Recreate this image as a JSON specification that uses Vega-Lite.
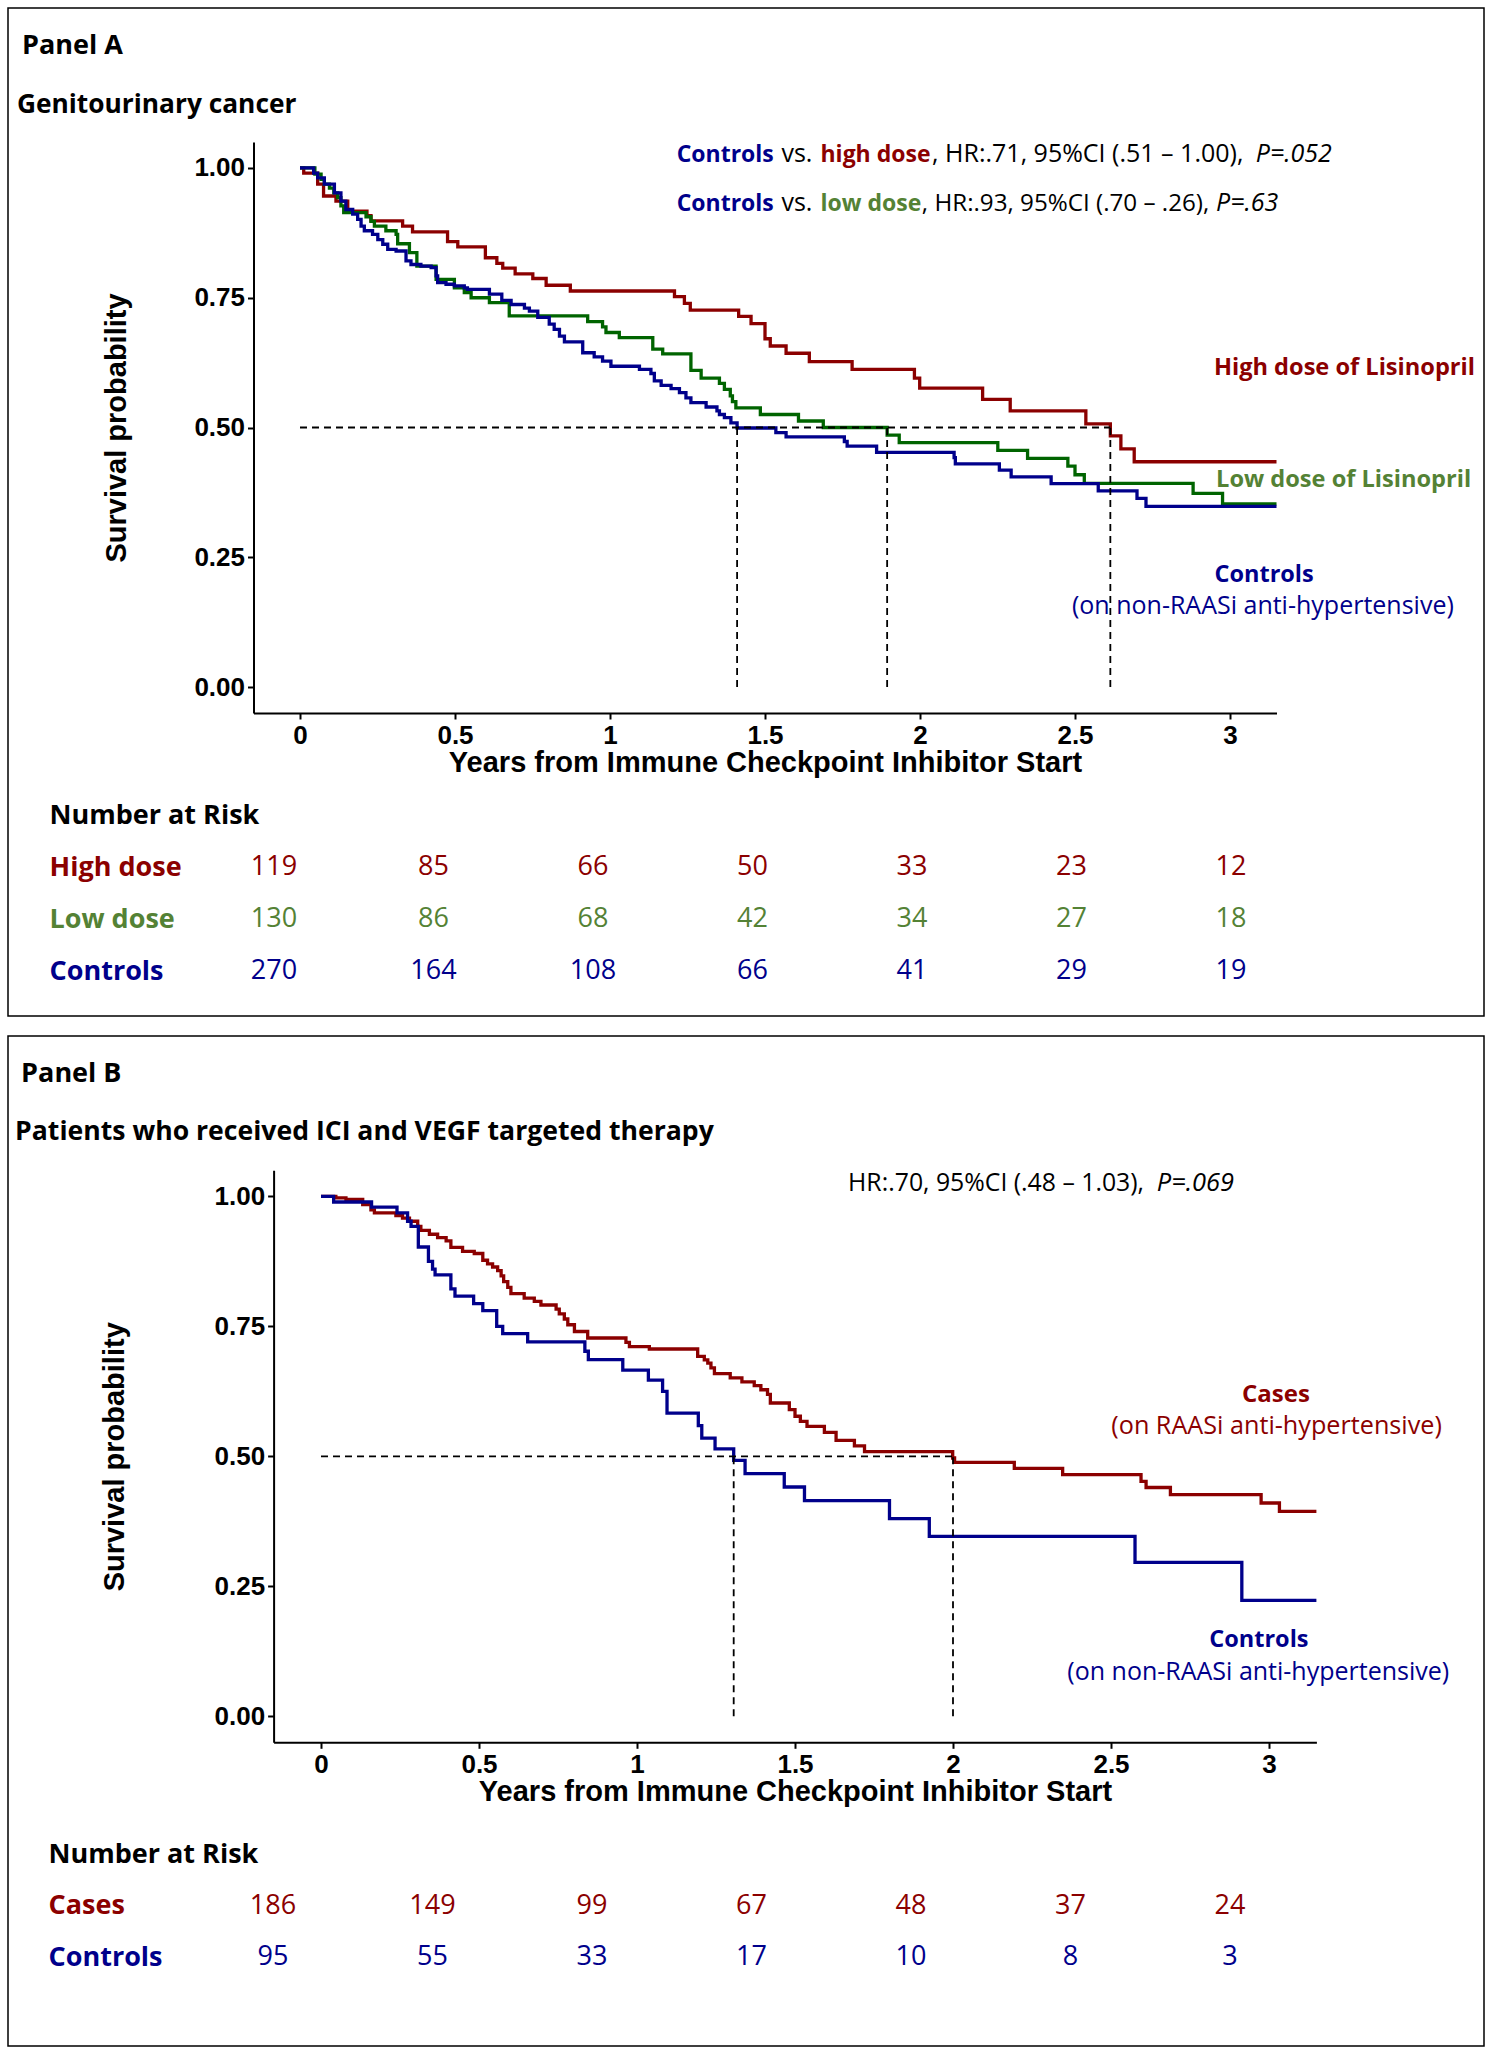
{
  "$schema": "https://vega.github.io/schema/vega-lite/v6.json",
  "padding": {"left": 7, "top": 7, "right": 0, "bottom": 0},
  "background": "white",
  "config": {
    "view": {"stroke": "#000000", "strokeWidth": 1.5},
    "axis": {"grid": false},
    "font": "Open Sans"
  },
  "datasets": {
    "kmA": [
      {"group":"High dose","t":0,"s":1},{"group":"High dose","t":0.012,"s":0.990},{"group":"High dose","t":0.057,"s":0.969},{"group":"High dose","t":0.076,"s":0.946},{"group":"High dose","t":0.116,"s":0.936},{"group":"High dose","t":0.154,"s":0.917},{"group":"High dose","t":0.216,"s":0.908},{"group":"High dose","t":0.229,"s":0.898},{"group":"High dose","t":0.331,"s":0.888},{"group":"High dose","t":0.363,"s":0.877},{"group":"High dose","t":0.476,"s":0.858},{"group":"High dose","t":0.509,"s":0.848},{"group":"High dose","t":0.598,"s":0.827},{"group":"High dose","t":0.635,"s":0.816},{"group":"High dose","t":0.654,"s":0.807},{"group":"High dose","t":0.694,"s":0.796},{"group":"High dose","t":0.751,"s":0.787},{"group":"High dose","t":0.794,"s":0.774},{"group":"High dose","t":0.872,"s":0.763},{"group":"High dose","t":1.208,"s":0.752},{"group":"High dose","t":1.240,"s":0.739},{"group":"High dose","t":1.259,"s":0.726},{"group":"High dose","t":1.415,"s":0.714},{"group":"High dose","t":1.455,"s":0.700},{"group":"High dose","t":1.500,"s":0.671},{"group":"High dose","t":1.517,"s":0.657},{"group":"High dose","t":1.568,"s":0.643},{"group":"High dose","t":1.643,"s":0.627},{"group":"High dose","t":1.781,"s":0.612},{"group":"High dose","t":1.982,"s":0.595},{"group":"High dose","t":1.999,"s":0.576},{"group":"High dose","t":2.202,"s":0.554},{"group":"High dose","t":2.291,"s":0.532},{"group":"High dose","t":2.535,"s":0.507},{"group":"High dose","t":2.614,"s":0.484},{"group":"High dose","t":2.648,"s":0.459},{"group":"High dose","t":2.691,"s":0.434},{"group":"High dose","t":3.15,"s":0.434},
      {"group":"Low dose","t":0,"s":1},{"group":"Low dose","t":0.048,"s":0.988},{"group":"Low dose","t":0.068,"s":0.978},{"group":"Low dose","t":0.0785,"s":0.969},{"group":"Low dose","t":0.095,"s":0.961},{"group":"Low dose","t":0.109,"s":0.952},{"group":"Low dose","t":0.1215,"s":0.943},{"group":"Low dose","t":0.132,"s":0.927},{"group":"Low dose","t":0.141,"s":0.914},{"group":"Low dose","t":0.213,"s":0.906},{"group":"Low dose","t":0.229,"s":0.897},{"group":"Low dose","t":0.240,"s":0.888},{"group":"Low dose","t":0.277,"s":0.879},{"group":"Low dose","t":0.310,"s":0.872},{"group":"Low dose","t":0.315,"s":0.854},{"group":"Low dose","t":0.353,"s":0.837},{"group":"Low dose","t":0.377,"s":0.811},{"group":"Low dose","t":0.439,"s":0.7855},{"group":"Low dose","t":0.498,"s":0.769},{"group":"Low dose","t":0.530,"s":0.760},{"group":"Low dose","t":0.552,"s":0.750},{"group":"Low dose","t":0.611,"s":0.7405},{"group":"Low dose","t":0.675,"s":0.715},{"group":"Low dose","t":0.928,"s":0.704},{"group":"Low dose","t":0.976,"s":0.694},{"group":"Low dose","t":0.987,"s":0.683},{"group":"Low dose","t":1.030,"s":0.673},{"group":"Low dose","t":1.138,"s":0.651},{"group":"Low dose","t":1.170,"s":0.642},{"group":"Low dose","t":1.261,"s":0.610},{"group":"Low dose","t":1.294,"s":0.595},{"group":"Low dose","t":1.353,"s":0.585},{"group":"Low dose","t":1.369,"s":0.5735},{"group":"Low dose","t":1.388,"s":0.561},{"group":"Low dose","t":1.395,"s":0.550},{"group":"Low dose","t":1.406,"s":0.538},{"group":"Low dose","t":1.485,"s":0.525},{"group":"Low dose","t":1.608,"s":0.5125},{"group":"Low dose","t":1.688,"s":0.500},{"group":"Low dose","t":1.894,"s":0.4855},{"group":"Low dose","t":1.933,"s":0.471},{"group":"Low dose","t":2.251,"s":0.456},{"group":"Low dose","t":2.347,"s":0.4406},{"group":"Low dose","t":2.477,"s":0.4255},{"group":"Low dose","t":2.500,"s":0.409},{"group":"Low dose","t":2.530,"s":0.3925},{"group":"Low dose","t":2.881,"s":0.373},{"group":"Low dose","t":2.976,"s":0.353},{"group":"Low dose","t":3.15,"s":0.353},
      {"group":"Controls","t":0,"s":1},{"group":"Controls","t":0.044,"s":0.990},{"group":"Controls","t":0.057,"s":0.981},{"group":"Controls","t":0.0785,"s":0.969},{"group":"Controls","t":0.111,"s":0.952},{"group":"Controls","t":0.132,"s":0.936},{"group":"Controls","t":0.148,"s":0.920},{"group":"Controls","t":0.170,"s":0.911},{"group":"Controls","t":0.186,"s":0.901},{"group":"Controls","t":0.197,"s":0.888},{"group":"Controls","t":0.2075,"s":0.879},{"group":"Controls","t":0.234,"s":0.872},{"group":"Controls","t":0.251,"s":0.862},{"group":"Controls","t":0.267,"s":0.853},{"group":"Controls","t":0.283,"s":0.843},{"group":"Controls","t":0.310,"s":0.840},{"group":"Controls","t":0.342,"s":0.821},{"group":"Controls","t":0.358,"s":0.814},{"group":"Controls","t":0.390,"s":0.811},{"group":"Controls","t":0.423,"s":0.808},{"group":"Controls","t":0.439,"s":0.792},{"group":"Controls","t":0.444,"s":0.779},{"group":"Controls","t":0.471,"s":0.776},{"group":"Controls","t":0.498,"s":0.773},{"group":"Controls","t":0.530,"s":0.769},{"group":"Controls","t":0.540,"s":0.766},{"group":"Controls","t":0.611,"s":0.757},{"group":"Controls","t":0.651,"s":0.745},{"group":"Controls","t":0.681,"s":0.737},{"group":"Controls","t":0.724,"s":0.730},{"group":"Controls","t":0.740,"s":0.724},{"group":"Controls","t":0.767,"s":0.712},{"group":"Controls","t":0.804,"s":0.699},{"group":"Controls","t":0.820,"s":0.689},{"group":"Controls","t":0.837,"s":0.676},{"group":"Controls","t":0.853,"s":0.665},{"group":"Controls","t":0.912,"s":0.644},{"group":"Controls","t":0.949,"s":0.636},{"group":"Controls","t":0.976,"s":0.628},{"group":"Controls","t":1.003,"s":0.618},{"group":"Controls","t":1.095,"s":0.612},{"group":"Controls","t":1.132,"s":0.604},{"group":"Controls","t":1.143,"s":0.590},{"group":"Controls","t":1.165,"s":0.581},{"group":"Controls","t":1.197,"s":0.575},{"group":"Controls","t":1.224,"s":0.567},{"group":"Controls","t":1.245,"s":0.557},{"group":"Controls","t":1.261,"s":0.548},{"group":"Controls","t":1.310,"s":0.5395},{"group":"Controls","t":1.345,"s":0.532},{"group":"Controls","t":1.353,"s":0.525},{"group":"Controls","t":1.369,"s":0.519},{"group":"Controls","t":1.390,"s":0.509},{"group":"Controls","t":1.410,"s":0.499},{"group":"Controls","t":1.535,"s":0.490},{"group":"Controls","t":1.568,"s":0.482},{"group":"Controls","t":1.756,"s":0.473},{"group":"Controls","t":1.765,"s":0.464},{"group":"Controls","t":1.860,"s":0.452},{"group":"Controls","t":2.110,"s":0.442},{"group":"Controls","t":2.114,"s":0.430},{"group":"Controls","t":2.256,"s":0.418},{"group":"Controls","t":2.294,"s":0.405},{"group":"Controls","t":2.423,"s":0.392},{"group":"Controls","t":2.575,"s":0.378},{"group":"Controls","t":2.700,"s":0.3635},{"group":"Controls","t":2.729,"s":0.348},{"group":"Controls","t":3.15,"s":0.348}
    ],
    "kmB": [
      {"group":"Cases","t":0,"s":1},{"group":"Cases","t":0.047,"s":0.997},{"group":"Cases","t":0.079,"s":0.994},{"group":"Cases","t":0.132,"s":0.984},{"group":"Cases","t":0.158,"s":0.974},{"group":"Cases","t":0.169,"s":0.968},{"group":"Cases","t":0.237,"s":0.963},{"group":"Cases","t":0.258,"s":0.958},{"group":"Cases","t":0.280,"s":0.952},{"group":"Cases","t":0.306,"s":0.942},{"group":"Cases","t":0.316,"s":0.9346},{"group":"Cases","t":0.343,"s":0.927},{"group":"Cases","t":0.369,"s":0.9207},{"group":"Cases","t":0.396,"s":0.9143},{"group":"Cases","t":0.411,"s":0.9018},{"group":"Cases","t":0.448,"s":0.894},{"group":"Cases","t":0.485,"s":0.890},{"group":"Cases","t":0.512,"s":0.877},{"group":"Cases","t":0.527,"s":0.870},{"group":"Cases","t":0.543,"s":0.864},{"group":"Cases","t":0.559,"s":0.857},{"group":"Cases","t":0.570,"s":0.847},{"group":"Cases","t":0.578,"s":0.836},{"group":"Cases","t":0.591,"s":0.825},{"group":"Cases","t":0.601,"s":0.8128},{"group":"Cases","t":0.643,"s":0.804},{"group":"Cases","t":0.675,"s":0.798},{"group":"Cases","t":0.696,"s":0.791},{"group":"Cases","t":0.744,"s":0.783},{"group":"Cases","t":0.754,"s":0.774},{"group":"Cases","t":0.770,"s":0.764},{"group":"Cases","t":0.781,"s":0.753},{"group":"Cases","t":0.802,"s":0.740},{"group":"Cases","t":0.844,"s":0.7275},{"group":"Cases","t":0.965,"s":0.719},{"group":"Cases","t":0.976,"s":0.711},{"group":"Cases","t":1.039,"s":0.7063},{"group":"Cases","t":1.192,"s":0.692},{"group":"Cases","t":1.213,"s":0.6853},{"group":"Cases","t":1.224,"s":0.679},{"group":"Cases","t":1.234,"s":0.670},{"group":"Cases","t":1.245,"s":0.659},{"group":"Cases","t":1.295,"s":0.651},{"group":"Cases","t":1.332,"s":0.643},{"group":"Cases","t":1.371,"s":0.636},{"group":"Cases","t":1.392,"s":0.628},{"group":"Cases","t":1.413,"s":0.619},{"group":"Cases","t":1.422,"s":0.6025},{"group":"Cases","t":1.482,"s":0.5897},{"group":"Cases","t":1.500,"s":0.577},{"group":"Cases","t":1.517,"s":0.567},{"group":"Cases","t":1.538,"s":0.5577},{"group":"Cases","t":1.593,"s":0.546},{"group":"Cases","t":1.630,"s":0.5306},{"group":"Cases","t":1.688,"s":0.520},{"group":"Cases","t":1.720,"s":0.509},{"group":"Cases","t":1.999,"s":0.4967},{"group":"Cases","t":2.005,"s":0.4884},{"group":"Cases","t":2.194,"s":0.4769},{"group":"Cases","t":2.347,"s":0.4647},{"group":"Cases","t":2.595,"s":0.4519},{"group":"Cases","t":2.611,"s":0.440},{"group":"Cases","t":2.688,"s":0.4262},{"group":"Cases","t":2.975,"s":0.4102},{"group":"Cases","t":3.033,"s":0.394},{"group":"Cases","t":3.15,"s":0.394},
      {"group":"Controls","t":0,"s":1},{"group":"Controls","t":0.040,"s":0.989},{"group":"Controls","t":0.160,"s":0.979},{"group":"Controls","t":0.2405,"s":0.968},{"group":"Controls","t":0.274,"s":0.952},{"group":"Controls","t":0.285,"s":0.942},{"group":"Controls","t":0.308,"s":0.9025},{"group":"Controls","t":0.340,"s":0.875},{"group":"Controls","t":0.353,"s":0.860},{"group":"Controls","t":0.361,"s":0.849},{"group":"Controls","t":0.411,"s":0.822},{"group":"Controls","t":0.424,"s":0.808},{"group":"Controls","t":0.483,"s":0.7935},{"group":"Controls","t":0.512,"s":0.780},{"group":"Controls","t":0.556,"s":0.750},{"group":"Controls","t":0.575,"s":0.736},{"group":"Controls","t":0.654,"s":0.720},{"group":"Controls","t":0.835,"s":0.702},{"group":"Controls","t":0.846,"s":0.686},{"group":"Controls","t":0.955,"s":0.6656},{"group":"Controls","t":1.036,"s":0.6465},{"group":"Controls","t":1.081,"s":0.625},{"group":"Controls","t":1.095,"s":0.583},{"group":"Controls","t":1.194,"s":0.5589},{"group":"Controls","t":1.205,"s":0.535},{"group":"Controls","t":1.247,"s":0.5141},{"group":"Controls","t":1.306,"s":0.4922},{"group":"Controls","t":1.342,"s":0.4666},{"group":"Controls","t":1.466,"s":0.441},{"group":"Controls","t":1.530,"s":0.4147},{"group":"Controls","t":1.799,"s":0.380},{"group":"Controls","t":1.925,"s":0.346},{"group":"Controls","t":2.576,"s":0.296},{"group":"Controls","t":2.914,"s":0.223},{"group":"Controls","t":3.15,"s":0.223}
    ],
    "medA": [{"t":1.41},{"t":1.894},{"t":2.614}],
    "medB": [{"t":1.306},{"t":2.0}],
    "riskA": [
      {"group":"High dose","t":0,"n":119},{"group":"High dose","t":0.5,"n":85},{"group":"High dose","t":1,"n":66},{"group":"High dose","t":1.5,"n":50},{"group":"High dose","t":2,"n":33},{"group":"High dose","t":2.5,"n":23},{"group":"High dose","t":3,"n":12},
      {"group":"Low dose","t":0,"n":130},{"group":"Low dose","t":0.5,"n":86},{"group":"Low dose","t":1,"n":68},{"group":"Low dose","t":1.5,"n":42},{"group":"Low dose","t":2,"n":34},{"group":"Low dose","t":2.5,"n":27},{"group":"Low dose","t":3,"n":18},
      {"group":"Controls","t":0,"n":270},{"group":"Controls","t":0.5,"n":164},{"group":"Controls","t":1,"n":108},{"group":"Controls","t":1.5,"n":66},{"group":"Controls","t":2,"n":41},{"group":"Controls","t":2.5,"n":29},{"group":"Controls","t":3,"n":19}
    ],
    "riskB": [
      {"group":"Cases","t":0,"n":186},{"group":"Cases","t":0.5,"n":149},{"group":"Cases","t":1,"n":99},{"group":"Cases","t":1.5,"n":67},{"group":"Cases","t":2,"n":48},{"group":"Cases","t":2.5,"n":37},{"group":"Cases","t":3,"n":24},
      {"group":"Controls","t":0,"n":95},{"group":"Controls","t":0.5,"n":55},{"group":"Controls","t":1,"n":33},{"group":"Controls","t":1.5,"n":17},{"group":"Controls","t":2,"n":10},{"group":"Controls","t":2.5,"n":8},{"group":"Controls","t":3,"n":3}
    ]
  },
  "spacing": 18,
  "vconcat": [
    {
      "width": 1476,
      "height": 1008,
      "resolve": {"scale": {"x": "independent", "y": "independent", "color": "independent"}},
      "layer": [
        {
          "layer": [
            {
              "data": {"name": "kmA"},
              "mark": {"type": "line", "interpolate": "step-after", "strokeWidth": 3.3, "clip": true},
              "encoding": {
                "x": {"field": "t", "type": "quantitative",
                  "scale": {"domain": [-0.15, 3.15], "range": [245.5, 1268.5], "nice": false, "zero": false},
                  "axis": {"values": [0, 0.5, 1, 1.5, 2, 2.5, 3], "format": "~g", "title": "Years from Immune Checkpoint Inhibitor Start", "offset": -303, "labelFlush": false, "domainColor": "#000000", "domainWidth": 2, "tickColor": "#000000", "tickWidth": 2, "tickSize": 6, "labelPadding": 3, "labelFont": "Liberation Sans", "labelFontSize": 26, "labelFontWeight": "bold", "labelColor": "#000000", "titleFont": "Liberation Sans", "titleFontSize": 29, "titleFontWeight": "bold", "titleColor": "#000000", "titlePadding": 0}},
                "y": {"field": "s", "type": "quantitative",
                  "scale": {"domain": [-0.05, 1.05], "range": [705, 134], "nice": false, "zero": false},
                  "axis": {"values": [0, 0.25, 0.5, 0.75, 1], "format": ".2f", "title": "Survival probability", "offset": -245.5, "domainColor": "#000000", "domainWidth": 2, "tickColor": "#000000", "tickWidth": 2, "tickSize": 6, "labelPadding": 3, "labelFont": "Liberation Sans", "labelFontSize": 26, "labelFontWeight": "bold", "labelColor": "#000000", "titleFont": "Liberation Sans", "titleFontSize": 29, "titleFontWeight": "bold", "titleColor": "#000000", "titlePadding": 62}},
                "color": {"field": "group", "type": "nominal", "scale": {"domain": ["High dose", "Low dose", "Controls"], "range": ["#8B0000", "#006400", "#00008B"]}, "legend": null},
                "detail": {"field": "group"}
              }
            },
            {
              "data": {"values": [{}]},
              "mark": {"type": "rule", "strokeDash": [7, 5], "strokeWidth": 1.8, "color": "#000000"},
              "encoding": {"x": {"datum": 0, "type": "quantitative"}, "x2": {"datum": 2.614}, "y": {"datum": 0.5, "type": "quantitative"}}
            },
            {
              "data": {"name": "medA"},
              "mark": {"type": "rule", "strokeDash": [7, 5], "strokeWidth": 1.8, "color": "#000000"},
              "encoding": {"x": {"field": "t", "type": "quantitative"}, "y": {"datum": 0, "type": "quantitative"}, "y2": {"datum": 0.5}}
            },
            {"data": {"values": [{}]}, "mark": {"type": "text", "text": "Panel A", "font": "Open Sans", "fontWeight": "bold", "fontSize": 27, "align": "left", "baseline": "alphabetic", "color": "#000000"},
             "encoding": {"x": {"datum": -0.897, "type": "quantitative"}, "y": {"datum": 1.220, "type": "quantitative"}}},
            {"data": {"values": [{}]}, "mark": {"type": "text", "text": "Genitourinary cancer", "font": "Open Sans", "fontWeight": "bold", "fontSize": 26.3, "align": "left", "baseline": "alphabetic", "color": "#000000"},
             "encoding": {"x": {"datum": -0.913, "type": "quantitative"}, "y": {"datum": 1.106, "type": "quantitative"}}},
            {"data": {"values": [{}]}, "mark": {"type": "text", "text": "Controls", "font": "Open Sans", "fontWeight": "bold", "fontSize": 23, "align": "left", "baseline": "alphabetic", "color": "#00008B"},
             "encoding": {"x": {"datum": 1.215, "type": "quantitative"}, "y": {"datum": 1.012, "type": "quantitative"}}},
            {"data": {"values": [{}]}, "mark": {"type": "text", "text": "vs.", "font": "Open Sans", "fontSize": 25, "align": "left", "baseline": "alphabetic", "color": "#000000"},
             "encoding": {"x": {"datum": 1.553, "type": "quantitative"}, "y": {"datum": 1.012, "type": "quantitative"}}},
            {"data": {"values": [{}]}, "mark": {"type": "text", "text": "high dose", "font": "Open Sans", "fontWeight": "bold", "fontSize": 23, "align": "left", "baseline": "alphabetic", "color": "#8B0000"},
             "encoding": {"x": {"datum": 1.679, "type": "quantitative"}, "y": {"datum": 1.012, "type": "quantitative"}}},
            {"data": {"values": [{}]}, "mark": {"type": "text", "text": ", HR:.71, 95%CI (.51 – 1.00),", "font": "Open Sans", "fontSize": 25, "align": "left", "baseline": "alphabetic", "color": "#000000"},
             "encoding": {"x": {"datum": 2.039, "type": "quantitative"}, "y": {"datum": 1.012, "type": "quantitative"}}},
            {"data": {"values": [{}]}, "mark": {"type": "text", "text": "P=.052", "font": "Open Sans", "fontStyle": "italic", "fontSize": 25, "align": "left", "baseline": "alphabetic", "color": "#000000"},
             "encoding": {"x": {"datum": 3.083, "type": "quantitative"}, "y": {"datum": 1.012, "type": "quantitative"}}},
            {"data": {"values": [{}]}, "mark": {"type": "text", "text": "Controls", "font": "Open Sans", "fontWeight": "bold", "fontSize": 23, "align": "left", "baseline": "alphabetic", "color": "#00008B"},
             "encoding": {"x": {"datum": 1.215, "type": "quantitative"}, "y": {"datum": 0.917, "type": "quantitative"}}},
            {"data": {"values": [{}]}, "mark": {"type": "text", "text": "vs.", "font": "Open Sans", "fontSize": 25, "align": "left", "baseline": "alphabetic", "color": "#000000"},
             "encoding": {"x": {"datum": 1.553, "type": "quantitative"}, "y": {"datum": 0.917, "type": "quantitative"}}},
            {"data": {"values": [{}]}, "mark": {"type": "text", "text": "low dose", "font": "Open Sans", "fontWeight": "bold", "fontSize": 23, "align": "left", "baseline": "alphabetic", "color": "#548235"},
             "encoding": {"x": {"datum": 1.679, "type": "quantitative"}, "y": {"datum": 0.917, "type": "quantitative"}}},
            {"data": {"values": [{}]}, "mark": {"type": "text", "text": ", HR:.93, 95%CI (.70 – .26),", "font": "Open Sans", "fontSize": 24.2, "align": "left", "baseline": "alphabetic", "color": "#000000"},
             "encoding": {"x": {"datum": 2.006, "type": "quantitative"}, "y": {"datum": 0.917, "type": "quantitative"}}},
            {"data": {"values": [{}]}, "mark": {"type": "text", "text": "P=.63", "font": "Open Sans", "fontStyle": "italic", "fontSize": 25, "align": "left", "baseline": "alphabetic", "color": "#000000"},
             "encoding": {"x": {"datum": 2.955, "type": "quantitative"}, "y": {"datum": 0.917, "type": "quantitative"}}},
            {"data": {"values": [{}]}, "mark": {"type": "text", "text": "High dose of Lisinopril", "font": "Open Sans", "fontWeight": "bold", "fontSize": 23.6, "align": "left", "baseline": "alphabetic", "color": "#8B0000"},
             "encoding": {"x": {"datum": 2.948, "type": "quantitative"}, "y": {"datum": 0.601, "type": "quantitative"}}},
            {"data": {"values": [{}]}, "mark": {"type": "text", "text": "Low dose of Lisinopril", "font": "Open Sans", "fontWeight": "bold", "fontSize": 23.6, "align": "left", "baseline": "alphabetic", "color": "#548235"},
             "encoding": {"x": {"datum": 2.955, "type": "quantitative"}, "y": {"datum": 0.385, "type": "quantitative"}}},
            {"data": {"values": [{}]}, "mark": {"type": "text", "text": "Controls", "font": "Open Sans", "fontWeight": "bold", "fontSize": 23.5, "align": "center", "baseline": "alphabetic", "color": "#00008B"},
             "encoding": {"x": {"datum": 3.110, "type": "quantitative"}, "y": {"datum": 0.203, "type": "quantitative"}}},
            {"data": {"values": [{}]}, "mark": {"type": "text", "text": "(on non-RAASi anti-hypertensive)", "font": "Open Sans", "fontSize": 25, "align": "center", "baseline": "alphabetic", "color": "#00008B"},
             "encoding": {"x": {"datum": 3.106, "type": "quantitative"}, "y": {"datum": 0.141, "type": "quantitative"}}}
          ]
        },
        {
          "data": {"name": "riskA"},
          "mark": {"type": "text", "font": "Open Sans", "fontSize": 27, "baseline": "middle", "align": "center"},
          "encoding": {
            "x": {"field": "t", "type": "quantitative", "scale": {"domain": [0, 3], "range": [266, 1223], "nice": false, "zero": false}, "axis": null},
            "y": {"field": "group", "type": "nominal",
              "scale": {"type": "point", "domain": ["Number at Risk", "High dose", "Low dose", "Controls"], "range": [807, 963], "padding": 0},
              "axis": {"orient": "left", "offset": -41, "title": null, "domain": false, "ticks": false, "tickSize": 0, "labelPadding": 0, "labelAlign": "left", "labelBaseline": "middle", "labelFont": "Open Sans", "labelFontSize": 27, "labelFontWeight": "bold", "labelLimit": 400,
                "labelColor": {"condition": [{"test": "datum.value === 'High dose'", "value": "#8B0000"}, {"test": "datum.value === 'Low dose'", "value": "#548235"}, {"test": "datum.value === 'Controls'", "value": "#00008B"}], "value": "#000000"}}},
            "color": {"field": "group", "type": "nominal", "scale": {"domain": ["High dose", "Low dose", "Controls"], "range": ["#8B0000", "#548235", "#00008B"]}, "legend": null},
            "text": {"field": "n", "type": "quantitative"}
          }
        }
      ]
    },
    {
      "width": 1476,
      "height": 1010,
      "resolve": {"scale": {"x": "independent", "y": "independent", "color": "independent"}},
      "layer": [
        {
          "layer": [
            {
              "data": {"name": "kmB"},
              "mark": {"type": "line", "interpolate": "step-after", "strokeWidth": 3.3, "clip": true},
              "encoding": {
                "x": {"field": "t", "type": "quantitative",
                  "scale": {"domain": [-0.15, 3.15], "range": [265.6, 1308.4], "nice": false, "zero": false},
                  "axis": {"values": [0, 0.5, 1, 1.5, 2, 2.5, 3], "format": "~g", "title": "Years from Immune Checkpoint Inhibitor Start", "offset": -303.7, "labelFlush": false, "domainColor": "#000000", "domainWidth": 2, "tickColor": "#000000", "tickWidth": 2, "tickSize": 6, "labelPadding": 3, "labelFont": "Liberation Sans", "labelFontSize": 26, "labelFontWeight": "bold", "labelColor": "#000000", "titleFont": "Liberation Sans", "titleFontSize": 29, "titleFontWeight": "bold", "titleColor": "#000000", "titlePadding": 0}},
                "y": {"field": "s", "type": "quantitative",
                  "scale": {"domain": [-0.05, 1.05], "range": [706.3, 134.3], "nice": false, "zero": false},
                  "axis": {"values": [0, 0.25, 0.5, 0.75, 1], "format": ".2f", "title": "Survival probability", "offset": -265.6, "domainColor": "#000000", "domainWidth": 2, "tickColor": "#000000", "tickWidth": 2, "tickSize": 6, "labelPadding": 3, "labelFont": "Liberation Sans", "labelFontSize": 26, "labelFontWeight": "bold", "labelColor": "#000000", "titleFont": "Liberation Sans", "titleFontSize": 29, "titleFontWeight": "bold", "titleColor": "#000000", "titlePadding": 84}},
                "color": {"field": "group", "type": "nominal", "scale": {"domain": ["Cases", "Controls"], "range": ["#8B0000", "#00008B"]}, "legend": null},
                "detail": {"field": "group"}
              }
            },
            {
              "data": {"values": [{}]},
              "mark": {"type": "rule", "strokeDash": [7, 5], "strokeWidth": 1.8, "color": "#000000"},
              "encoding": {"x": {"datum": 0, "type": "quantitative"}, "x2": {"datum": 2.0}, "y": {"datum": 0.5, "type": "quantitative"}}
            },
            {
              "data": {"name": "medB"},
              "mark": {"type": "rule", "strokeDash": [7, 5], "strokeWidth": 1.8, "color": "#000000"},
              "encoding": {"x": {"field": "t", "type": "quantitative"}, "y": {"datum": 0, "type": "quantitative"}, "y2": {"datum": 0.5}}
            },
            {"data": {"values": [{}]}, "mark": {"type": "text", "text": "Panel B", "font": "Open Sans", "fontWeight": "bold", "fontSize": 27, "align": "left", "baseline": "alphabetic", "color": "#000000"},
             "encoding": {"x": {"datum": -0.949, "type": "quantitative"}, "y": {"datum": 1.220, "type": "quantitative"}}},
            {"data": {"values": [{}]}, "mark": {"type": "text", "text": "Patients who received ICI and VEGF targeted therapy", "font": "Open Sans", "fontWeight": "bold", "fontSize": 26.6, "align": "left", "baseline": "alphabetic", "color": "#000000"},
             "encoding": {"x": {"datum": -0.968, "type": "quantitative"}, "y": {"datum": 1.108, "type": "quantitative"}}},
            {"data": {"values": [{}]}, "mark": {"type": "text", "text": "HR:.70, 95%CI (.48 – 1.03),", "font": "Open Sans", "fontSize": 24.8, "align": "left", "baseline": "alphabetic", "color": "#000000"},
             "encoding": {"x": {"datum": 1.668, "type": "quantitative"}, "y": {"datum": 1.010, "type": "quantitative"}}},
            {"data": {"values": [{}]}, "mark": {"type": "text", "text": "P=.069", "font": "Open Sans", "fontStyle": "italic", "fontSize": 25.4, "align": "left", "baseline": "alphabetic", "color": "#000000"},
             "encoding": {"x": {"datum": 2.645, "type": "quantitative"}, "y": {"datum": 1.010, "type": "quantitative"}}},
            {"data": {"values": [{}]}, "mark": {"type": "text", "text": "Cases", "font": "Open Sans", "fontWeight": "bold", "fontSize": 24, "align": "center", "baseline": "alphabetic", "color": "#8B0000"},
             "encoding": {"x": {"datum": 3.022, "type": "quantitative"}, "y": {"datum": 0.605, "type": "quantitative"}}},
            {"data": {"values": [{}]}, "mark": {"type": "text", "text": "(on RAASi anti-hypertensive)", "font": "Open Sans", "fontSize": 25.2, "align": "center", "baseline": "alphabetic", "color": "#8B0000"},
             "encoding": {"x": {"datum": 3.024, "type": "quantitative"}, "y": {"datum": 0.542, "type": "quantitative"}}},
            {"data": {"values": [{}]}, "mark": {"type": "text", "text": "Controls", "font": "Open Sans", "fontWeight": "bold", "fontSize": 23.5, "align": "center", "baseline": "alphabetic", "color": "#00008B"},
             "encoding": {"x": {"datum": 2.968, "type": "quantitative"}, "y": {"datum": 0.134, "type": "quantitative"}}},
            {"data": {"values": [{}]}, "mark": {"type": "text", "text": "(on non-RAASi anti-hypertensive)", "font": "Open Sans", "fontSize": 25, "align": "center", "baseline": "alphabetic", "color": "#00008B"},
             "encoding": {"x": {"datum": 2.966, "type": "quantitative"}, "y": {"datum": 0.070, "type": "quantitative"}}}
          ]
        },
        {
          "data": {"name": "riskB"},
          "mark": {"type": "text", "font": "Open Sans", "fontSize": 27, "baseline": "middle", "align": "center"},
          "encoding": {
            "x": {"field": "t", "type": "quantitative", "scale": {"domain": [0, 3], "range": [265, 1222], "nice": false, "zero": false}, "axis": null},
            "y": {"field": "group", "type": "nominal",
              "scale": {"type": "point", "domain": ["Number at Risk", "Cases", "Controls"], "range": [818, 921], "padding": 0},
              "axis": {"orient": "left", "offset": -40, "title": null, "domain": false, "ticks": false, "tickSize": 0, "labelPadding": 0, "labelAlign": "left", "labelBaseline": "middle", "labelFont": "Open Sans", "labelFontSize": 27, "labelFontWeight": "bold", "labelLimit": 400,
                "labelColor": {"condition": [{"test": "datum.value === 'Cases'", "value": "#8B0000"}, {"test": "datum.value === 'Controls'", "value": "#00008B"}], "value": "#000000"}}},
            "color": {"field": "group", "type": "nominal", "scale": {"domain": ["Cases", "Controls"], "range": ["#8B0000", "#00008B"]}, "legend": null},
            "text": {"field": "n", "type": "quantitative"}
          }
        }
      ]
    }
  ]
}
